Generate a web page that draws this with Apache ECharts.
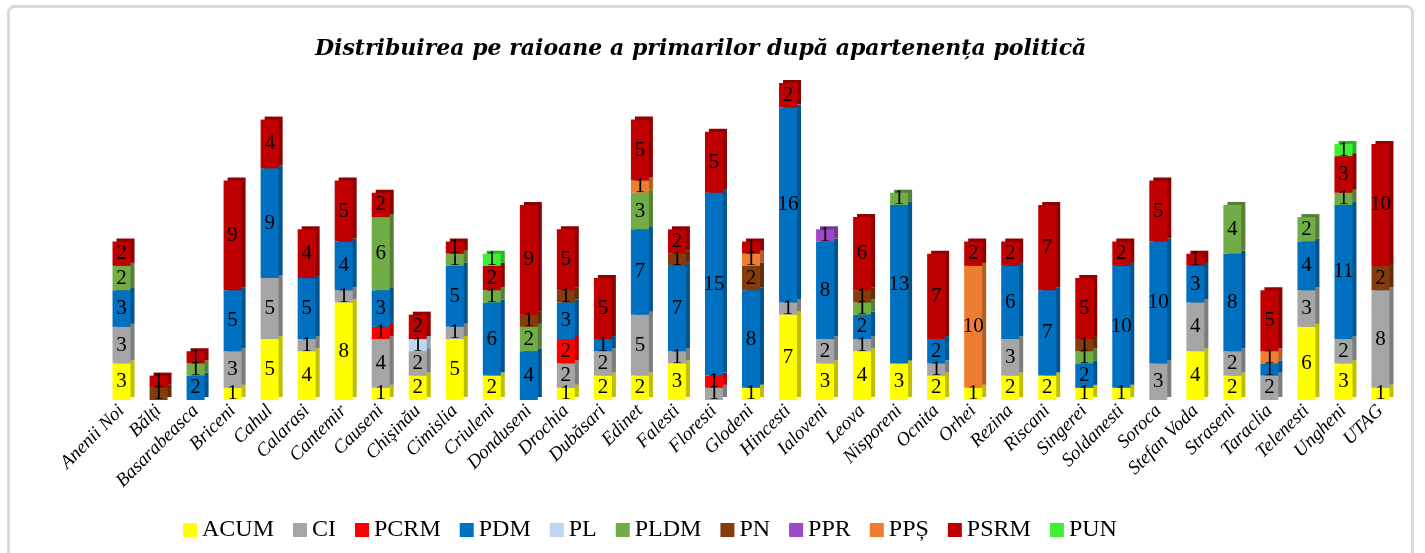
<!DOCTYPE html>
<html>
<head>
<meta charset="utf-8">
<script src="https://cdn.jsdelivr.net/npm/echarts@6/dist/echarts.min.js"></script>
<style>html,body{margin:0;padding:0;background:#fff}#c{width:1425px;height:553px}</style>
</head>
<body>
<div id="c"></div>
<script>
const categories = ['Anenii Noi','Bălți','Basarabeasca','Briceni','Cahul','Calarasi','Cantemir','Causeni','Chișinău','Cimislia','Criuleni','Donduseni','Drochia','Dubăsari','Edinet','Falesti','Floresti','Glodeni','Hincesti','Ialoveni','Leova','Nisporeni','Ocnita','Orhei','Rezina','Riscani','Singerei','Soldanesti','Soroca','Stefan Voda','Straseni','Taraclia','Telenesti','Ungheni','UTAG'];
const seriesNames = ['ACUM','CI','PCRM','PDM','PL','PLDM','PN','PPR','PPȘ','PSRM','PUN'];
const ACUM = [3,null,null,1,5,4,8,1,2,5,2,null,1,2,2,3,null,1,7,3,4,3,2,1,2,2,1,1,null,4,2,null,6,3,1];
const CI   = [3,null,null,3,5,1,1,4,2,1,null,null,2,2,5,1,1,null,1,2,1,null,1,null,3,null,null,null,3,4,2,2,3,2,8];
const PCRM = [null,null,null,null,null,null,null,1,null,null,null,null,2,null,null,null,1,null,null,null,null,null,null,null,null,null,null,null,null,null,null,null,null,null,null];
const PDM  = [3,null,2,5,9,5,4,3,null,5,6,4,3,1,7,7,15,8,16,8,2,13,2,null,6,7,2,10,10,3,8,1,4,11,null];
const PL   = [null,null,null,null,null,null,null,null,1,null,null,null,null,null,null,null,null,null,null,null,null,null,null,null,null,null,null,null,null,null,null,null,null,null,null];
const PLDM = [2,null,1,null,null,null,null,6,null,1,1,2,null,null,3,null,null,null,null,null,1,1,null,null,null,null,1,null,null,null,4,null,2,1,null];
const PN   = [null,1,null,null,null,null,null,null,null,null,null,1,1,null,null,1,null,2,null,null,1,null,null,null,null,null,1,null,null,null,null,null,null,null,2];
const PPR  = [null,null,null,null,null,null,null,null,null,null,null,null,null,null,null,null,null,null,null,1,null,null,null,null,null,null,null,null,null,null,null,null,null,null,null];
const PPS  = [null,null,null,null,null,null,null,null,null,null,null,null,null,null,1,null,null,1,null,null,null,null,null,10,null,null,null,null,null,null,null,1,null,null,null];
const PSRM = [2,1,1,9,4,4,5,2,2,1,2,9,5,5,5,2,5,1,2,null,6,null,7,2,2,7,5,2,5,1,null,5,null,3,10];
const PUN  = [null,null,null,null,null,null,null,null,null,null,1,null,null,null,null,null,null,null,null,null,null,null,null,null,null,null,null,null,null,null,null,null,null,1,null];
const values = [ACUM,CI,PCRM,PDM,PL,PLDM,PN,PPR,PPS,PSRM,PUN];
const faceColors = ['#FFFF00','#A5A5A5','#FF0000','#0070C0','#BDD7EE','#70AD47','#843C0C','#9E48C8','#ED7D31','#C00000','#3CF032'];
const sideColors = ['#BFBF00','#7C7C7C','#BF0000','#00548F','#8EA1B2','#547F35','#632D09','#763696','#B25E25','#900000','#2DB425'];

const chart = echarts.init(document.getElementById('c'));
const serif = '"Liberation Serif", "DejaVu Serif", serif';
chart.setOption({
  animation: false,
  backgroundColor: '#fff',
  graphic: [{type:'rect', shape:{x:8.5,y:6.5,width:1404,height:580,r:6}, style:{fill:'none',stroke:'#d9d9d9',lineWidth:3}, z:-1}],
  title: {text:'Distribuirea pe raioane a primarilor după apartenența politică', left:310, top:33,
    textStyle:{fontFamily:'"DejaVu Serif", serif', fontSize:22, fontStyle:'italic', fontWeight:'bold', color:'#000'}},
  legend: {bottom:6, left:178, itemWidth:14, itemHeight:14, itemGap:19, icon:'rect',
    textStyle:{fontFamily:serif, fontSize:24, color:'#000'}, data: seriesNames},
  grid: {left:103, right:26, top:83, bottom:153},
  xAxis: {type:'category', data:categories, axisLine:{show:false}, axisTick:{show:false},
    axisLabel:{rotate:45, interval:0, margin:8, fontFamily:serif, fontStyle:'italic', fontSize:19, color:'#000'}},
  yAxis: {type:'value', min:0, max:26, show:false, splitLine:{show:false}},
  series: seriesNames.map((n,i)=>({
    name:n, type:'bar', stack:'all', barWidth:18, data:values[i],
    itemStyle:{color:faceColors[i], shadowColor:sideColors[i], shadowOffsetX:4, shadowOffsetY:-3, shadowBlur:0},
    label:{show:true, position:'inside', fontFamily:serif, fontSize:21, color:'#000',
      formatter:p=> (p.value ? String(p.value) : '')}
  }))
});
</script>
</body>
</html>
